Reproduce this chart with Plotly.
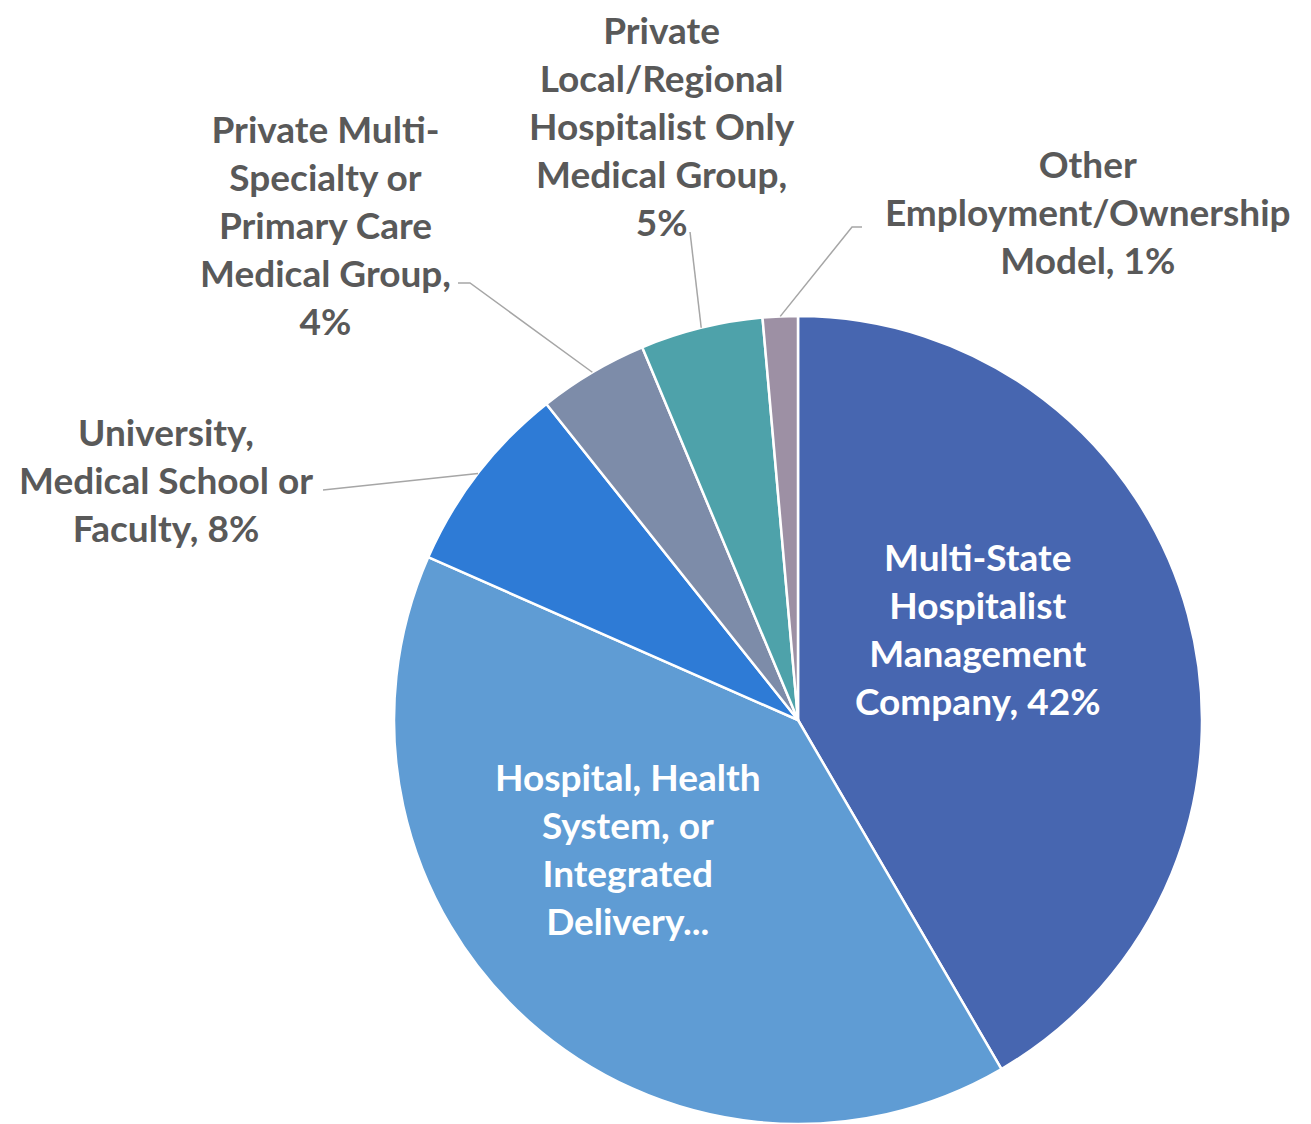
import math
import plotly.graph_objects as go

# ---- data ----
categories = [
    "Multi-State Hospitalist Management Company",
    "Hospital, Health System, or Integrated Delivery Network",
    "University, Medical School or Faculty",
    "Private Multi-Specialty or Primary Care Medical Group",
    "Private Local/Regional Hospitalist Only Medical Group",
    "Other Employment/Ownership Model",
]
values = [41.6, 40.0, 7.7, 4.4, 4.9, 1.4]
label_lines = [
    "Multi-State<br>Hospitalist<br>Management<br>Company",
    "Hospital, Health<br>System, or<br>Integrated<br>Delivery...",
    "University,<br>Medical School or<br>Faculty",
    "Private Multi-<br>Specialty or<br>Primary Care<br>Medical Group,",
    "Private<br>Local/Regional<br>Hospitalist Only<br>Medical Group,",
    "Other<br>Employment/Ownership<br>Model",
]
show_pct = [True, False, True, True, True, True]
pct_sep = [", ", "", ", ", "<br>", "<br>", ", "]
colors = ["#4766B0", "#5F9CD4", "#2E7BD6", "#7D8CA9", "#4EA2AA", "#9D90A4"]

# ---- layout geometry (pixels) ----
W, H = 1311, 1124
CX, CY, R = 798, 720, 404

# label centres (pixels) and text colour
label_pos = [(978, 628), (628, 848), (166, 479), (325, 225), (662, 125), (1088, 212)]
inside = [True, True, False, False, False, False]
# leader line start points (pixels) for outside labels; list of points
leader_start = [None, None, [(323, 490)], [(458, 283), (470, 283)],
                [(690, 232)], [(862, 227), (852, 227)]]

fig = go.Figure(go.Pie(
    labels=categories,
    values=values,
    sort=False,
    direction="clockwise",
    rotation=0,
    marker=dict(colors=colors, line=dict(color="white", width=2.5)),
    textinfo="none",
    hoverinfo="label+percent",
    showlegend=False,
    domain=dict(x=[(CX - R) / W, (CX + R) / W], y=[1 - (CY + R) / H, 1 - (CY - R) / H]),
))

total = sum(values)
cum = 0.0
annotations = []
shapes = []
for i, v in enumerate(values):
    mid = (cum + v / 2) / total * 2 * math.pi
    cum += v
    pct = round(v / total * 100)
    text = label_lines[i] + (pct_sep[i] + f"{pct}%" if show_pct[i] else "")
    lx, ly = label_pos[i]
    annotations.append(dict(
        x=lx / W, y=1 - ly / H, xref="paper", yref="paper",
        text=text, showarrow=False, xanchor="center", yanchor="middle",
        align="center",
        font=dict(family="Lato", size=37, weight=700,
                  color="white" if inside[i] else "#595959"),
    ))
    if leader_start[i]:
        ex = CX + R * math.sin(mid)
        ey = CY - R * math.cos(mid)
        pts = leader_start[i] + [(ex, ey)]
        path = "M " + " L ".join(f"{px / W:.5f},{1 - py / H:.5f}" for px, py in pts)
        shapes.append(dict(type="path", path=path, xref="paper", yref="paper",
                           line=dict(color="#A6A6A6", width=1.5)))

fig.update_layout(
    width=W, height=H,
    margin=dict(l=0, r=0, t=0, b=0),
    paper_bgcolor="white",
    plot_bgcolor="white",
    annotations=annotations,
    shapes=shapes,
)

fig.write_html("out.html")
